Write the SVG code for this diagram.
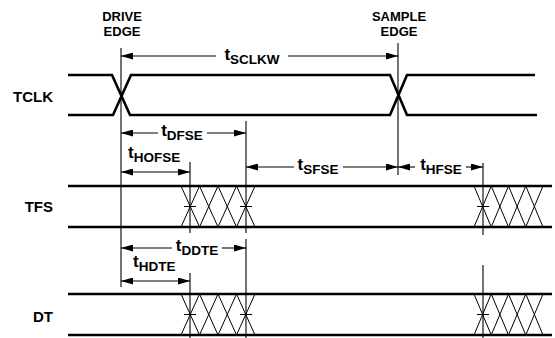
<svg xmlns="http://www.w3.org/2000/svg" width="555" height="338" viewBox="0 0 555 338">
<defs>
<marker id="ah" viewBox="0 0 12 7" refX="12" refY="3.5" markerWidth="12" markerHeight="7" markerUnits="userSpaceOnUse" orient="auto-start-reverse">
<path d="M0,0 L12,3.5 L0,7 z" fill="#000"/>
</marker>
<style>
.sig{fill:none;stroke:#000;stroke-width:2.6;stroke-linejoin:miter}
.ref{fill:none;stroke:#000;stroke-width:1.1}
.hat{fill:none;stroke:#000;stroke-width:1}
.arr{fill:none;stroke:#000;stroke-width:1.1}
.as{marker-start:url(#ah)}
.ae{marker-end:url(#ah)}
.lbl{font-family:"Liberation Sans",Arial,sans-serif;font-weight:bold;fill:#000}
.sm{font-size:13px}
.big{font-size:15px}
.t{font-size:17px}
.sub{font-size:13.5px}
</style>
</defs>
<rect width="555" height="338" fill="#fff"/>

<g id="labels">
<text class="lbl sm" x="122" y="21" text-anchor="middle">DRIVE</text>
<text class="lbl sm" x="122" y="36" text-anchor="middle">EDGE</text>
<text class="lbl sm" x="399" y="21" text-anchor="middle">SAMPLE</text>
<text class="lbl sm" x="399" y="36" text-anchor="middle">EDGE</text>
<text class="lbl big" x="53" y="102" text-anchor="end">TCLK</text>
<text class="lbl big" x="53" y="212" text-anchor="end">TFS</text>
<text class="lbl big" x="53" y="322" text-anchor="end">DT</text>
</g>

<g id="tclk">
<path class="sig" d="M68,75 H112 L130,115 H390 L407,75 H535"/>
<path class="sig" d="M68,115 H113 L131,75 H390 L407,115 H537"/>
</g>

<g id="tfs">
<path class="sig" d="M68,186 H552"/>
<path class="sig" d="M68,227 H552"/>
<path class="hat" d="M181,186 L199.5,227 L218,186 L236.5,227 L255,186 M181,227 L199.5,186 L218,227 L236.5,186 L255,227"/>
<path class="hat" d="M474,186 L491.25,227 L508.5,186 L525.75,227 L543,186 M474,227 L491.25,186 L508.5,227 L525.75,186 L543,227"/>
<path class="hat" d="M184,206.5 H196 M240,206.5 H252 M477,206.5 H489"/>
</g>

<g id="dt">
<path class="sig" d="M68,294 H552"/>
<path class="sig" d="M68,335 H552"/>
<path class="hat" d="M181,294 L199.5,335 L218,294 L236.5,335 L255,294 M181,335 L199.5,294 L218,335 L236.5,294 L255,335"/>
<path class="hat" d="M474,294 L491.25,335 L508.5,294 L525.75,335 L543,294 M474,335 L491.25,294 L508.5,335 L525.75,294 L543,335"/>
<path class="hat" d="M184,314.5 H196 M240,314.5 H252 M477,314.5 H489"/>
</g>

<g id="reference-lines">
<path class="ref" d="M121,48 V287"/>
<path class="ref" d="M398,43 V175"/>
<path class="ref" d="M190,162 V233"/>
<path class="ref" d="M246,121 V233"/>
<path class="ref" d="M483,163 V235"/>
<path class="ref" d="M190,273 V338"/>
<path class="ref" d="M246,239 V338"/>
<path class="ref" d="M483,265 V338"/>
</g>

<g id="connectors">
<path class="arr as" d="M121,56 H216"/>
<path class="arr ae" d="M288,56 H398"/>
<path class="arr as" d="M121,133 H158"/>
<path class="arr ae" d="M207,133 H246"/>
<path class="arr as ae" d="M121,172 H190"/>
<path class="arr as" d="M246,167 H294"/>
<path class="arr ae" d="M343,167 H398"/>
<path class="arr as" d="M398,167 H415"/>
<path class="arr ae" d="M466,167 H483"/>
<path class="arr as" d="M121,248 H172"/>
<path class="arr ae" d="M222,248 H246"/>
<path class="arr as ae" d="M121,281 H190"/>
</g>

<g id="timing-labels">
<text class="lbl t" x="252" y="60" text-anchor="middle">t<tspan class="sub" dy="4">SCLKW</tspan></text>
<text class="lbl t" x="182" y="136" text-anchor="middle">t<tspan class="sub" dy="4">DFSE</tspan></text>
<text class="lbl t" x="128" y="158">t<tspan class="sub" dy="4">HOFSE</tspan></text>
<text class="lbl t" x="318" y="170" text-anchor="middle">t<tspan class="sub" dy="4">SFSE</tspan></text>
<text class="lbl t" x="441" y="170" text-anchor="middle">t<tspan class="sub" dy="4">HFSE</tspan></text>
<text class="lbl t" x="197" y="251" text-anchor="middle">t<tspan class="sub" dy="4">DDTE</tspan></text>
<text class="lbl t" x="133" y="267">t<tspan class="sub" dy="4">HDTE</tspan></text>
</g>
</svg>
